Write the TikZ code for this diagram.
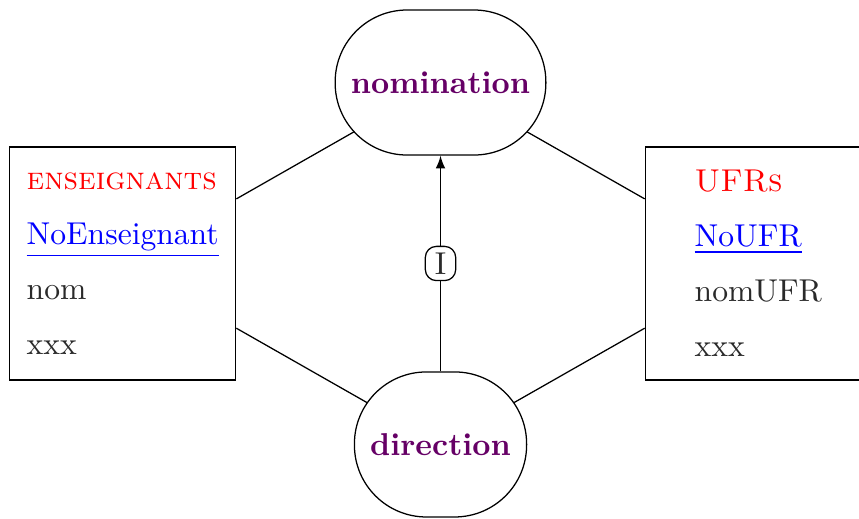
\documentclass[tikz,border=0pt]{standalone}
\usetikzlibrary{backgrounds}
\definecolor{relcol}{HTML}{660066}
\definecolor{attrcol}{HTML}{2A2A2A}

\begin{document}
\begin{tikzpicture}[
  entity/.style={draw, fill=white, text=attrcol, align=left,
    minimum width=2.514cm, minimum height=2.591cm},
  relation/.style={draw, fill=white, text=relcol, font=\bfseries,
    rounded corners=0.8cm, inner xsep=5pt, minimum height=1.613cm},
  card/.style={draw, fill=white, text=attrcol, rounded corners=3.5pt,
    inner xsep=3pt, inner ysep=2pt}]
  \useasboundingbox (0,0) rectangle (9.555,5.762);

  % Draw entities
  \node[entity] (ens) at (1.365,2.83) {\textcolor{red}{\textsc{enseignants}}\\[5.4pt]
    \textcolor{blue}{\underline{NoEnseignant}}\\[5.4pt] nom\\[5.4pt] xxx};
  \node[entity] (ufr) at (8.435,2.83) {\textcolor{red}{\textsc{UFRs}}\\[5.4pt]
    \textcolor{blue}{\underline{NoUFR}}\\[5.4pt] nomUFR\\[5.4pt] xxx};

  % Draw relations
  \node[relation] (nomination) at (4.9,4.844) {nomination};
  \node[relation] (direction) at (4.9,0.818) {direction};

  % Links
  \begin{scope}[on background layer]
    \draw (ens) -- (nomination.center);
    \draw (ens) -- (direction.center);
    \draw (ufr) -- (nomination.center);
    \draw (ufr) -- (direction.center);
  \end{scope}

  \draw[-latex] (direction) -- node[card] {I} (nomination);
\end{tikzpicture}
\end{document}
